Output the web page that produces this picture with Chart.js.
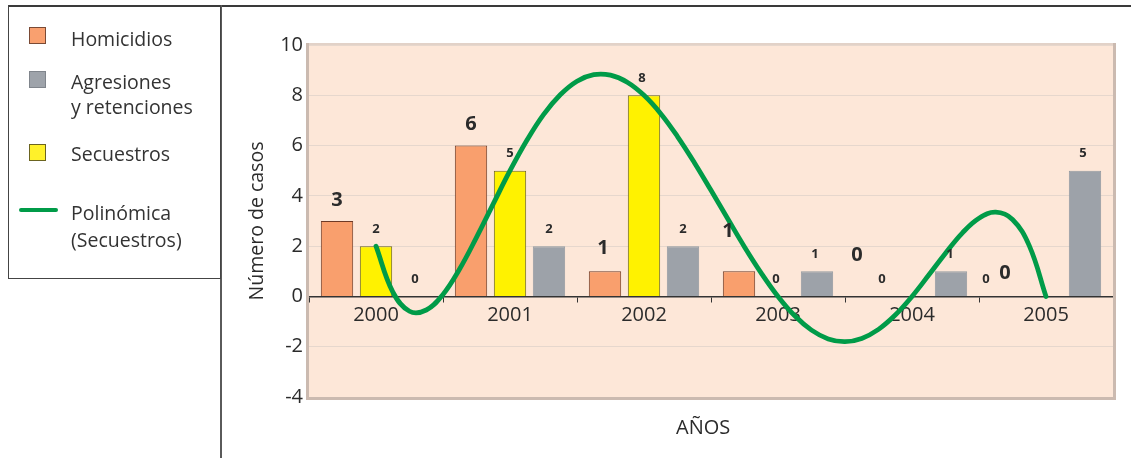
<!DOCTYPE html>
<html>
<head>
<meta charset="utf-8">
<script src="https://cdn.jsdelivr.net/npm/chart.js@4.4.1/dist/chart.umd.min.js"></script>
<style>
  html, body { margin:0; padding:0; background:#fff; }
  body { width:1131px; height:458px; position:relative; overflow:hidden; font-family: "Open Sans", Lato, sans-serif; color:#2b2b2b; }
  #c { position:absolute; left:0; top:0; }
  .hline { position:absolute; left:8px; top:5px; width:1123px; height:0; border-top:2px solid #3a3a3a; }
  .vline { position:absolute; left:220px; top:5px; width:0; height:453px; border-left:2px solid #5a5a5a; }
  .legend { position:absolute; left:8px; top:5px; width:211px; height:273px; border:1.5px solid #444; border-top:none; background:transparent; }
  .sw { position:absolute; width:17px; height:17px; box-sizing:border-box; }
  .lt { position:absolute; left:62px; font-size:19.5px; line-height:24px; color:#333; white-space:nowrap; }
  .gl { position:absolute; left:10px; width:39px; height:4px; border-radius:2px; background:#009b48; }
  .xt { position:absolute; left:676px; top:413px; font-size:20px; color:#2b2b2b; }
</style>
</head>
<body>
<canvas id="c" width="1131" height="458"></canvas>
<div class="hline"></div>
<div class="vline"></div>
<div class="legend">
  <div class="sw" style="left:20px;top:22px;background:#f9a06f;border:1px solid #7a4a35;"></div>
  <div class="lt" style="top:22px;">Homicidios</div>
  <div class="sw" style="left:20px;top:66px;background:#9ea3aa;border:1px solid #80858c;"></div>
  <div class="lt" style="top:64px;line-height:25px;">Agresiones<br>y retenciones</div>
  <div class="sw" style="left:20px;top:139px;background:#fff12a;border:1px solid #6b6420;"></div>
  <div class="lt" style="top:137px;">Secuestros</div>
  <div class="gl" style="top:203px;"></div>
  <div class="lt" style="top:194px;line-height:27px;">Polinómica<br>(Secuestros)</div>
</div>
<div class="xt">AÑOS</div>
<script>
// ---- data ----
const categories = ['2000', '2001', '2002', '2003', '2004', '2005'];
const homicidios = [3, 6, 1, 1, 0, 0];
const secuestros = [2, 5, 8, 0, 0, 0];
const agresiones = [0, 2, 2, 1, 1, 5];
const yTickValues = [-4, -2, 0, 2, 4, 6, 8, 10];
// polynomial trend (Secuestros) at eighth-category steps
const trendPos = [0, 0.125, 0.25, 0.375, 0.5, 0.625, 0.75, 0.875, 1, 1.125, 1.25, 1.375, 1.5, 1.625, 1.75, 1.875,
  2, 2.125, 2.25, 2.375, 2.5, 2.625, 2.75, 2.875, 3, 3.125, 3.25, 3.375, 3.5, 3.625, 3.75, 3.875,
  4, 4.125, 4.25, 4.375, 4.5, 4.625, 4.75, 4.875, 5];
const trendVals = [2, 0.18, -0.59, -0.54, 0.08, 1.10, 2.35, 3.68, 5, 6.20, 7.23, 8.02, 8.56, 8.82, 8.80, 8.52,
  8, 7.27, 6.36, 5.33, 4.22, 3.09, 1.97, 0.93, 0, -0.77, -1.34, -1.69, -1.80, -1.67, -1.31, -0.74,
  0, 0.85, 1.72, 2.52, 3.11, 3.35, 3.06, 2.02, 0];

const FONT = '"Open Sans", Lato, sans-serif';
const TEXT = '#2b2b2b';

// label nudges (dx, dy) per dataset/point, in px
const labelStyle = {
  0: { size: 20, weight: 'bold', lift: 21, nudge: [[0,0],[0,0],[-2,-2],[-11,-19],[-16,-20],[-2,-2]] },
  1: { size: 13, weight: 'bold', lift: 17, nudge: [[0,0],[0,0],[-2,0],[-2,0],[-30,0],[-60,0]] },
  2: { size: 13, weight: 'bold', lift: 17, nudge: [[0,0],[0,0],[0,0],[-2,0],[-1,0],[-2,0]] }
};

const plotBg = {
  id: 'plotBg',
  beforeDraw(chart) {
    const { ctx, chartArea: a } = chart;
    ctx.save();
    ctx.fillStyle = '#fde7d8';
    ctx.fillRect(a.left, a.top, a.right - a.left, a.bottom - a.top);
    ctx.restore();
  },
  afterDatasetsDraw(chart) {
    const { ctx, chartArea: a } = chart;
    ctx.save();
    ctx.strokeStyle = '#e2d2c8';
    ctx.lineWidth = 2;
    ctx.beginPath();
    ctx.moveTo(a.left - 3, a.top - 1);
    ctx.lineTo(a.right + 2, a.top - 1);
    ctx.stroke();
    ctx.strokeStyle = '#cbbab0';
    ctx.lineWidth = 3;
    ctx.beginPath();
    ctx.moveTo(a.left - 1.5, a.top - 2);
    ctx.lineTo(a.left - 1.5, a.bottom + 1.5);
    ctx.lineTo(a.right + 1.5, a.bottom + 1.5);
    ctx.lineTo(a.right + 1.5, a.top - 2);
    ctx.stroke();
    ctx.restore();
  }
};

const barLabels = {
  id: 'barLabels',
  afterDatasetsDraw(chart) {
    const { ctx } = chart;
    ctx.save();
    ctx.fillStyle = TEXT;
    ctx.textAlign = 'center';
    ctx.textBaseline = 'middle';
    [0, 1, 2].forEach(di => {
      const meta = chart.getDatasetMeta(di);
      const st = labelStyle[di];
      ctx.font = st.weight + ' ' + st.size + 'px ' + FONT;
      meta.data.forEach((el, i) => {
        const v = chart.data.datasets[di].data[i];
        const n = st.nudge[i];
        ctx.fillText(String(v), el.x + n[0], el.y - st.lift + n[1]);
      });
    });
    ctx.restore();
  }
};

new Chart(document.getElementById('c'), {
  type: 'bar',
  data: {
    labels: categories,
    datasets: [
      { label: 'Homicidios', data: homicidios, backgroundColor: '#f99f6d', borderColor: '#6e3a26', borderWidth: 1, order: 2 },
      { label: 'Secuestros', data: secuestros, backgroundColor: '#fff200', borderColor: '#6b6420', borderWidth: 1, order: 2 },
      { label: 'Agresiones y retenciones', data: agresiones, backgroundColor: '#9da2a9', borderColor: '#949aa1', borderWidth: 1, order: 2 },
      { type: 'line', label: 'Polinómica (Secuestros)', parsing: false,
        data: trendPos.map((p, i) => ({ x: p, y: trendVals[i] })),
        borderColor: '#009b48', borderWidth: 4.8, pointRadius: 0, tension: 0.4,
        borderCapStyle: 'round', borderJoinStyle: 'round', fill: false, order: 0 }
    ]
  },
  options: {
    responsive: false,
    animation: false,
    devicePixelRatio: 1,
    layout: { padding: { left: 246, top: 45, right: 18, bottom: 61 } },
    datasets: { bar: { categoryPercentage: 0.873, barPercentage: 0.83 } },
    plugins: { legend: { display: false }, tooltip: { enabled: false } },
    scales: {
      x: {
        type: 'category',
        position: { y: 0 },
        offset: true,
        grid: { display: true, offset: true, drawOnChartArea: false, drawTicks: true, tickLength: 5, color: '#333', lineWidth: 1 },
        border: { display: true, color: '#333', width: 1.5 },
        ticks: { color: TEXT, font: { family: FONT, size: 20 }, padding: 2, maxRotation: 0 }
      },
      y: {
        min: -4, max: 10,
        afterBuildTicks(scale) { scale.ticks = yTickValues.map(v => ({ value: v })); },
        afterFit(scale) { scale.width = 63; },
        grid: { color: '#e6d7cd', lineWidth: 1, drawTicks: false },
        border: { display: false },
        ticks: { color: TEXT, font: { family: FONT, size: 20 }, padding: 6 },
        title: { display: true, text: 'Número de casos', color: TEXT, font: { family: FONT, size: 19.5 }, padding: { top: 0, bottom: 6 } }
      }
    }
  },
  plugins: [plotBg, barLabels]
});
</script>
</body>
</html>
